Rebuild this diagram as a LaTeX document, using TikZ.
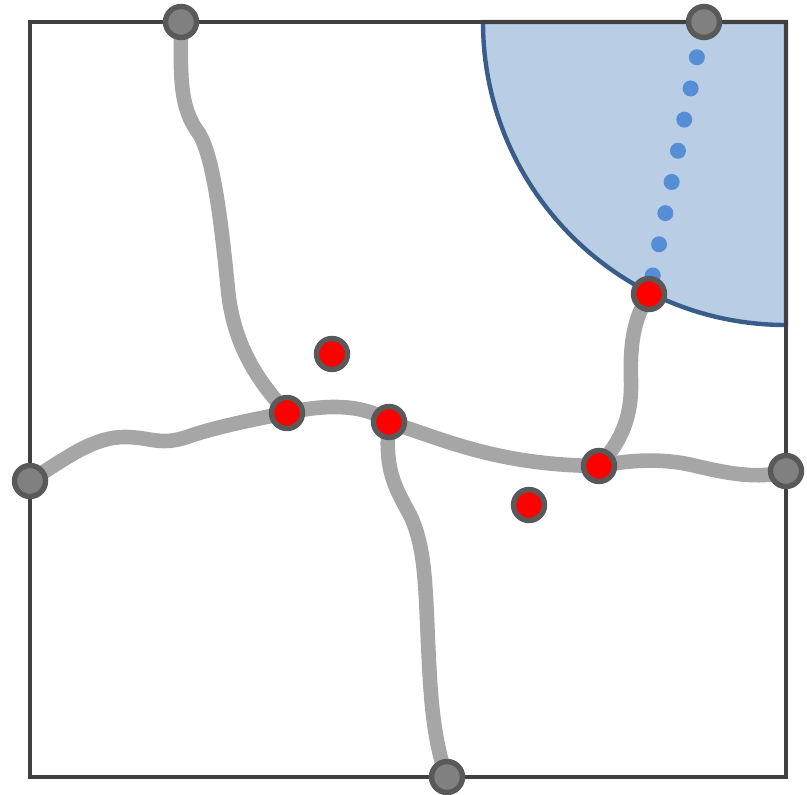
\documentclass[tikz,border=0pt]{standalone}
\usetikzlibrary{backgrounds}

\definecolor{roadgray}{HTML}{A6A6A6}
\definecolor{ringgray}{HTML}{595959}
\definecolor{portgray}{HTML}{808080}
\definecolor{framegray}{HTML}{404040}
\definecolor{zonefill}{HTML}{B9CDE5}
\definecolor{zoneline}{HTML}{385D8A}
\definecolor{dotblue}{HTML}{558ED5}

\begin{document}
\begin{tikzpicture}[x=0.5pt,y=-0.5pt,
        hub/.style={circle,draw=ringgray,line width=2.7pt,fill=red,minimum size=15.5pt,inner sep=0pt},
        port/.style={hub,fill=portgray},
        road/.style={draw=roadgray,line width=7.3pt,line cap=round},
        trail/.style={draw=dotblue,line width=8pt,line cap=round,dash pattern=on 0pt off 15.9pt,dash phase=13.8pt}]

    \useasboundingbox (0,0) rectangle (807,795);

    % Boundary ports
    \node[port] (g1) at (181,22) {};
    \node[port] (g2) at (704,22) {};
    \node[port] (g3) at (30,481) {};
    \node[port] (g4) at (786,471) {};
    \node[port] (g5) at (447,777) {};

    % Red hubs
    \node[hub] (r1) at (332,354) {};
    \node[hub] (r2) at (287,413) {};
    \node[hub] (r3) at (389,422) {};
    \node[hub] (r4) at (599,466) {};
    \node[hub] (r5) at (649,294) {};
    \node[hub] (r6) at (529,505) {};

    \begin{pgfonlayer}{background}
    % Covered zone and frame
    \filldraw[fill=zonefill,draw=zoneline,line width=2.2pt]
        (786,22) -- (483,22) arc[start angle=180,end angle=270,radius=151.5pt] -- cycle;
    \draw[framegray,line width=2pt] (30,22) rectangle (786,777);

    % Dotted link inside the zone
    \draw[trail] (g2.center) -- (r5);

    % Roads
    \draw[road] (g1.center) .. controls (181,70) and (178,105) .. (198,132)
        .. controls (214,155) and (222,230) .. (228,290)
        .. controls (234,350) and (262,385) .. (r2.center);
    \draw[road] (g3.center) .. controls (70,455) and (95,437) .. (125,437)
        .. controls (150,437) and (160,446) .. (187,437)
        .. controls (212,428) and (250,420) .. (r2.center);
    \draw[road] (r2.center) .. controls (312,407) and (360,400) .. (r3.center);
    \draw[road] (r3.center) .. controls (450,442) and (500,465) .. (r4.center);
    \draw[road] (r4.center) .. controls (630,460) and (660,458) .. (692,465)
        .. controls (725,473) and (760,480) .. (g4.center);
    \draw[road] (r3.center) .. controls (384,470) and (395,487) .. (410,515)
        .. controls (428,552) and (425,600) .. (430,680)
        .. controls (433,730) and (440,760) .. (g5.center);
    \draw[road] (r5.center) .. controls (633,320) and (630,345) .. (631,380)
        .. controls (632,420) and (620,442) .. (r4.center);
    \end{pgfonlayer}

\end{tikzpicture}
\end{document}
